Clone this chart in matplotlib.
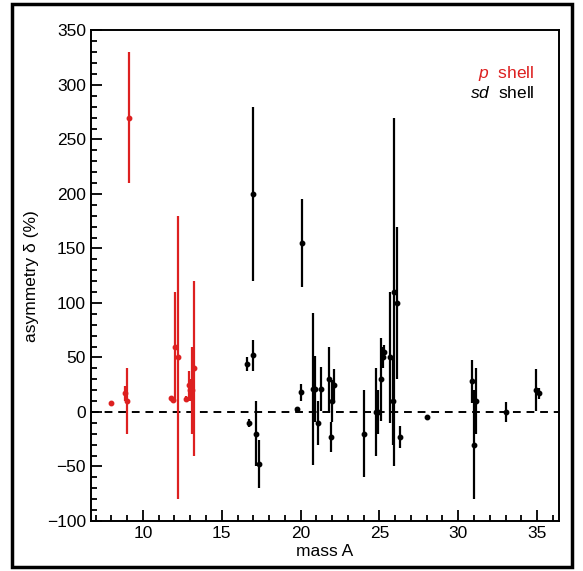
import numpy as np
import matplotlib
matplotlib.use("Agg")
import matplotlib.pyplot as plt
from matplotlib.patches import Rectangle
from matplotlib.ticker import MultipleLocator

plt.rcParams['font.family'] = ['Liberation Sans', 'DejaVu Sans']
plt.rcParams['mathtext.fontset'] = 'custom'
plt.rcParams['mathtext.it'] = 'Liberation Sans:italic'
plt.rcParams['mathtext.rm'] = 'Liberation Sans'

# p shell (red)
p_mass = [8.0, 8.85, 9.0, 9.1, 11.75, 11.9, 12.05, 12.2, 12.75, 12.9, 13.0, 13.1, 13.25]
p_delta = [8, 17, 10, 270, 13, 11, 60, 50, 12, 25, 20, 20, 40]
p_err = [0, 7, 30, 60, 2, 2, 50, 130, 3, 13, 10, 40, 80]

# sd shell (black)
sd_mass = [16.6, 16.75, 16.95, 17.0, 17.2, 17.35, 19.8, 20.0, 20.1,
           20.8, 20.9, 21.1, 21.3, 21.8, 21.9, 22.0, 22.15, 24.0,
           24.8, 24.9, 25.1, 25.2, 25.3, 25.7, 25.85, 25.95, 26.1, 26.3,
           28.0, 30.9, 31.0, 31.15, 33.05, 34.95, 35.1]
sd_delta = [44, -10, 52, 200, -20, -48, 3, 18, 155,
            21, 21, -10, 21, 30, -23, 10, 25, -20,
            0, 0, 30, 50, 55, 50, 10, 110, 100, -23,
            -5, 28, -30, 10, 0, 20, 17]
sd_err = [6, 4, 14, 80, 30, 22, 2, 8, 40,
          70, 30, 20, 20, 30, 14, 19, 14, 40,
          40, 20, 38, 10, 6, 60, 40, 160, 70, 10,
          0, 20, 50, 30, 9, 19, 5]

fig = plt.figure(figsize=(5.83, 5.71), dpi=100)
ax = fig.add_axes([0.156, 0.0876, 0.803, 0.859])

red = '#dd2020'
ax.errorbar(p_mass, p_delta, yerr=p_err, fmt='o', color=red, ms=3.2,
            elinewidth=1.6, capsize=0, zorder=3)
ax.errorbar(sd_mass, sd_delta, yerr=sd_err, fmt='o', color='black', ms=3.2,
            elinewidth=1.6, capsize=0, zorder=3)
ax.axhline(0, color='black', ls=(0, (4, 3)), lw=1.4, zorder=2)

ax.set_xlim(6.7, 36.4)
ax.set_ylim(-100, 350)
ax.xaxis.set_major_locator(MultipleLocator(5))
ax.xaxis.set_minor_locator(MultipleLocator(1))
ax.yaxis.set_major_locator(MultipleLocator(50))
ax.yaxis.set_minor_locator(MultipleLocator(10))
ax.tick_params(which='both', direction='in', top=False, right=False,
               labelsize=12.5, width=1.3)
ax.tick_params(which='major', length=8)
ax.tick_params(which='minor', length=4.5)
for s in ax.spines.values():
    s.set_linewidth(1.4)

ax.set_xlabel('mass A', fontsize=12.5, labelpad=2)
ax.set_ylabel('asymmetry δ (%)', fontsize=12.5, labelpad=6)

ax.text(0.947, 0.912, r'$\it{p}$  shell', color=red, fontsize=12.5,
        ha='right', va='center', transform=ax.transAxes)
ax.text(0.947, 0.872, r'$\it{sd}$  shell', color='black', fontsize=12.5,
        ha='right', va='center', transform=ax.transAxes)

# outer frame
fig.patches.append(Rectangle((12 / 583, 4 / 571), 560 / 583, 563 / 571,
                             transform=fig.transFigure, fill=False,
                             lw=2.5, ec='black'))

fig.savefig('out.png', dpi=100)
